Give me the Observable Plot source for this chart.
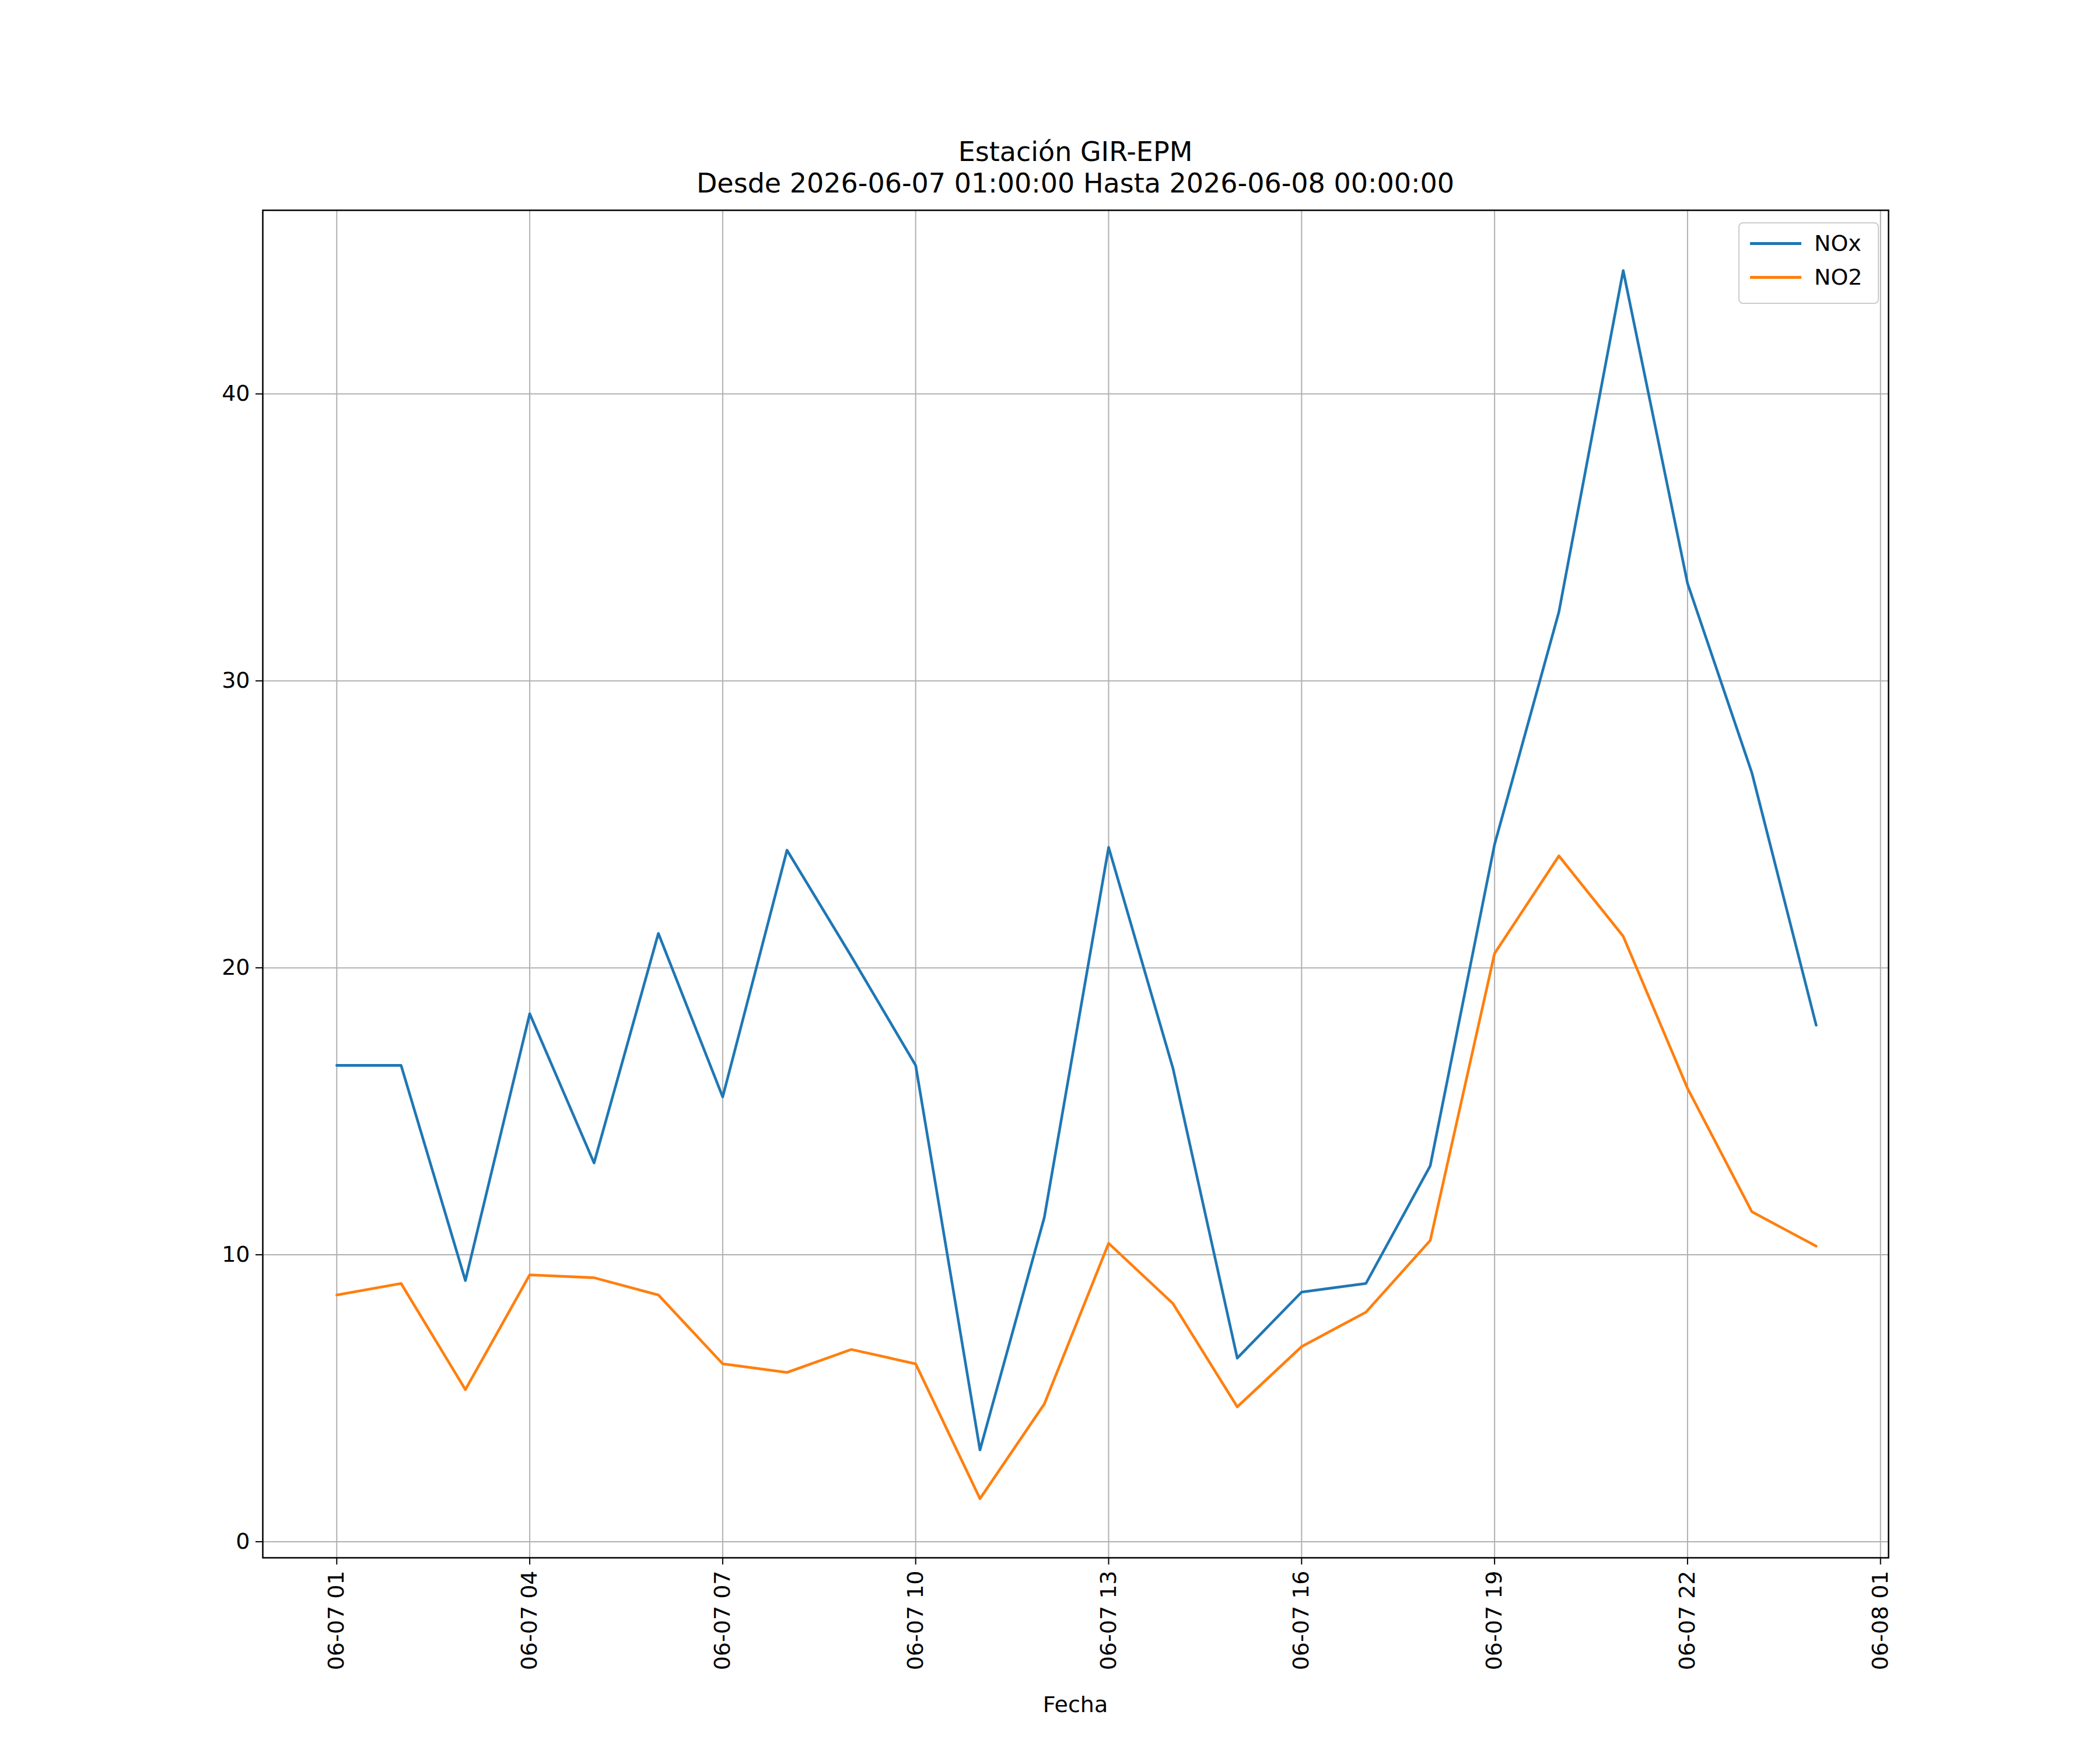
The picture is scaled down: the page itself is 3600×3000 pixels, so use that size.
<!DOCTYPE html>
<html><head><meta charset="utf-8">
<script src="https://cdn.jsdelivr.net/npm/d3@7"></script>
<script src="https://cdn.jsdelivr.net/npm/@observablehq/plot@0.6"></script>
<style>
body{margin:0;background:#fff;font-family:"DejaVu Sans",sans-serif;}
#wrap{position:relative;width:3600px;height:3000px;}
.t{position:absolute;left:0;width:3687px;text-align:center;font-size:46px;color:#000;line-height:1.17;}
#legend{position:absolute;left:2980px;top:381px;width:237px;height:136px;border:2px solid #ccc;border-radius:8px;background:#fff;font-size:38px;}
.li{position:absolute;left:18px;display:flex;align-items:center;}
.li span{display:inline-block;width:88px;height:5px;margin-right:22px;}
</style></head>
<body><div id="wrap">
<div id="chart"></div>
<div class="t" style="top:234px">Estación GIR-EPM<br>Desde 2026-06-07 01:00:00 Hasta 2026-06-08 00:00:00</div>
<div class="t" style="top:2900px;font-size:38px;">Fecha</div>
<div id="legend">
<div class="li" style="top:12px"><span style="background:#1f77b4"></span>NOx</div>
<div class="li" style="top:70px"><span style="background:#ff7f0e"></span>NO2</div>
</div>
</div>
<script>
const hours = d3.range(1, 25);
const nox = [16.6,16.6,9.1,18.4,13.2,21.2,15.5,24.1,20.4,16.6,3.2,11.3,24.2,16.5,6.4,8.7,9.0,13.1,24.3,32.4,44.3,33.4,26.8,18.0];
const no2 = [8.6,9.0,5.3,9.3,9.2,8.6,6.2,5.9,6.7,6.2,1.5,4.8,10.4,8.3,4.7,6.8,8.0,10.5,20.5,23.9,21.1,15.8,11.5,10.3];
const yTicks = [0,10,20,30,40];
const H = 3600e3;
const t0 = Date.UTC(2026,5,7,0);
const date = h => new Date(t0 + h*H);
const rows = [];
hours.forEach((h,i)=>{rows.push({t:date(h),v:nox[i],s:"NOx"});rows.push({t:date(h),v:no2[i],s:"NO2"});});
const xTicks = d3.range(1, 26, 3).map(date);
const fmt = d3.utcFormat("%m-%d %H");
const p = Plot.plot({
  width:3600, height:3000,
  marginLeft:450, marginRight:363, marginTop:360, marginBottom:330,
  style:{fontFamily:"DejaVu Sans",fontSize:"38px",background:"#fff"},
  x:{type:"utc",domain:[new Date(t0+H-1.15*H), new Date(t0+25.125*H)]},
  y:{domain:[-0.56,46.4]},
  marks:[
    Plot.gridX(xTicks,{stroke:"#b0b0b0",strokeOpacity:1,strokeWidth:2}),
    Plot.gridY(yTicks,{stroke:"#b0b0b0",strokeOpacity:1,strokeWidth:2}),
    Plot.line(rows,{x:"t",y:"v",z:"s",stroke:d=>d.s==="NOx"?"#1f77b4":"#ff7f0e",strokeWidth:4.6}),
    Plot.axisX(xTicks,{tickFormat:fmt,tickRotate:-90,tickSize:12,tickPadding:10,label:null,stroke:"#000",strokeWidth:2,fill:"#000"}),
    Plot.axisY(yTicks,{tickSize:12,tickPadding:10,label:null,stroke:"#000",strokeWidth:2,fill:"#000"}),
    Plot.frame({stroke:"#000",strokeWidth:2.5})
  ]
});
document.getElementById("chart").appendChild(p);
</script></body></html>
